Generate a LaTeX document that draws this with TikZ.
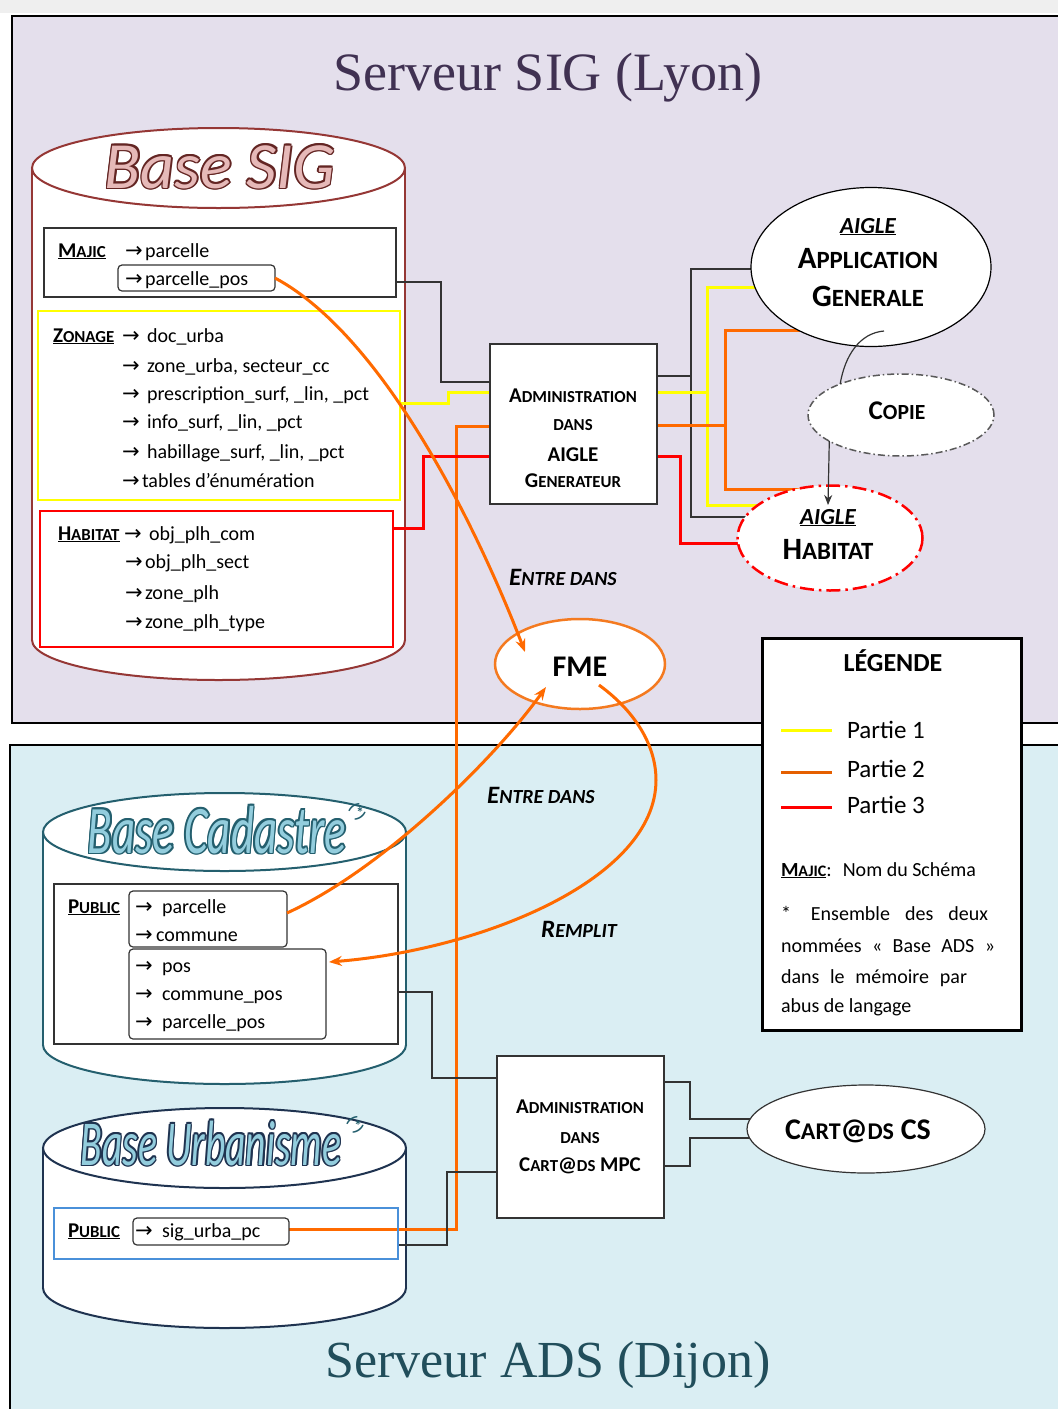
\documentclass[tikz,border=0pt]{standalone}
\usepackage{fontspec}
\setmainfont{Carlito}
\newfontfamily\serifttl{Liberation Serif}
\newfontfamily\arrowfont{DejaVu Sans}
\usetikzlibrary{shapes.geometric,arrows.meta,calc}
\pgfdeclarelayer{bg}
\pgfdeclarelayer{mid}
\pgfsetlayers{bg,mid,main}
\definecolor{lav}{HTML}{E4DFEC}
\definecolor{sky}{HTML}{DAEEF3}
\definecolor{orangeC}{HTML}{FF6A00}
\definecolor{fmeC}{HTML}{F47A20}
\definecolor{sigC}{HTML}{953735}
\definecolor{sigFill}{HTML}{E6B9B8}
\definecolor{sigStroke}{HTML}{632523}
\definecolor{cadC}{HTML}{245F6E}
\definecolor{urbC}{HTML}{1F3350}
\definecolor{cadFill}{HTML}{93CDDD}
\definecolor{titleA}{HTML}{403152}
\definecolor{titleB}{HTML}{214E5B}
\definecolor{blueBox}{HTML}{4A90D9}
\definecolor{redC}{HTML}{FF0000}
\definecolor{yelC}{HTML}{FFFF00}
\definecolor{grayC}{HTML}{595959}
\definecolor{lineK}{HTML}{333333}
\definecolor{topGray}{HTML}{EFEFEF}
\newcommand\fsz[1]{\fontsize{#1}{#1}\selectfont}
\newcommand\smc[2]{#1\scalebox{0.8}{#2}}
\newcommand\myarrow{{\arrowfont\fsz{21}→}}
\newcommand\arbox[1]{\makebox[#1pt][l]{\myarrow}}
% #1 name, #2 coordinate, #3 font, #4 fill, #5 stroke, #6 text
\newcommand\outlinetext[6]{%
  \foreach \dx/\dy in {-1.6/0,1.6/0,0/-1.6,0/1.6,-1.1/-1.1,1.1/1.1,-1.1/1.1,1.1/-1.1}
    {\node[font=#3,text=#5,inner sep=0,anchor=base] at ($#2+(\dx,\dy)$) {#6};}
  \node[font=#3,text=#4,inner sep=0,anchor=base] (#1) at #2 {#6};
}
% xl, xr, ytop, ybot, ry, colour
\newcommand\cylinder[6]{%
  \pgfmathsetmacro\cylcx{(#1+#2)/2}%
  \pgfmathsetmacro\cylrx{(#2-#1)/2}%
  \filldraw[fill=white,draw=#6,line width=2pt] (\cylcx,#4) ellipse[x radius=\cylrx,y radius=#5];
  \fill[white] (#1,#3) rectangle (#2,#4);
  \draw[#6,line width=2pt] (#1,#3) -- (#1,#4) (#2,#3) -- (#2,#4);
  \filldraw[fill=white,draw=#6,line width=2pt] (\cylcx,#3) ellipse[x radius=\cylrx,y radius=#5];
}
\begin{document}
\begin{tikzpicture}[x=1pt,y=-1pt,
  txt/.style={inner sep=0pt,outer sep=0pt,anchor=base west,font=\fsz{20}},
  ctxt/.style={inner sep=0pt,outer sep=0pt,anchor=base},
  box/.style={draw=lineK,line width=1.5pt,inner sep=0pt,outer sep=0pt},
  rbox/.style={draw=lineK,line width=1.2pt,rounded corners=4pt,inner sep=0pt,outer sep=0pt},
  oval/.style={ellipse,inner sep=0pt,outer sep=0pt,fill=white},
  blk/.style={draw=lineK,line width=1.5pt},
  yel/.style={draw=yelC,line width=3pt},
  org/.style={draw=orangeC,line width=3pt},
  redl/.style={draw=redC,line width=3pt},
  tip/.style={-{Stealth[length=13pt,width=10pt]}},
  ktip/.style={-{Stealth[length=10pt,width=8pt]}},
  supstyle/.style={font=\fsz{15}\bfseries,text=cadC,rotate=-55,inner sep=0pt},
]
\useasboundingbox (0,0) rectangle (1058,1409);

\begin{pgfonlayer}{bg}
  \fill[white] (0,0) rectangle (1058,1409);
  \fill[topGray] (0,0) rectangle (1058,13);
  \filldraw[fill=lav,draw=black,line width=2.5pt] (12,16) rectangle (1080,723);
  \filldraw[fill=sky,draw=black,line width=2.5pt] (10,745) rectangle (1080,1430);
  \cylinder{32}{405}{168}{640}{40}{sigC}
  \cylinder{43}{406}{832}{1045}{39}{cadC}
  \cylinder{43}{406}{1148}{1288}{40}{urbC}
\end{pgfonlayer}

% titles
\node[ctxt,font=\serifttl\fsz{54},text=titleA] (title1) at (548,90) {Serveur SIG (Lyon)};
\node[ctxt,font=\serifttl\fsz{52},text=titleB] (title2) at (548,1377) {Serveur ADS (Dijon)};

% database titles
\outlinetext{sigT}{(220,188)}{\fsz{66}\itshape}{sigFill}{sigStroke}{Base SIG}
\outlinetext{cadT}{(217,853)}{\fsz{68}\itshape}{cadFill}{cadC}{\scalebox{0.66}[1]{Base Cadastre}}
\outlinetext{urbT}{(211,1165)}{\fsz{64}\itshape}{cadFill}{urbC}{\scalebox{0.62}[1]{Base Urbanisme}}
\node[supstyle] (cadSup) at (357,812) {(*)};
\node[supstyle] (urbSup) at (355,1125) {(*)};

% ---- Base SIG boxes
\node[box,minimum width=352pt,minimum height=69pt] (majic) at (220,262.5) {};
\node[rbox,minimum width=157pt,minimum height=26pt] (pos) at (196.5,278) {};
\node[draw=yelC,line width=2.5pt,inner sep=0pt,outer sep=0pt,minimum width=362pt,minimum height=189pt] (zonage) at (219,405.5) {};
\node[draw=redC,line width=2.5pt,inner sep=0pt,outer sep=0pt,minimum width=353pt,minimum height=136pt] (habbox) at (216.5,579) {};

\node[txt,font=\fsz{21}] (majicL) at (58,257) {\underline{\textbf{\smc{M}{AJIC}}}};
\node[txt] (m1) at (125,257) {\arbox{20}parcelle};
\node[txt] (m2) at (125,285) {\arbox{20}parcelle\_pos};

\node[txt,font=\fsz{21}] (zonL) at (53,342) {\underline{\textbf{\smc{Z}{ONAGE}}}};
\node[txt] (z1) at (122,342) {\arbox{25}doc\_urba};
\node[txt] (z2) at (122,372) {\arbox{25}zone\_urba, secteur\_cc};
\node[txt] (z3) at (122,400) {\arbox{25}prescription\_surf, \_lin, \_pct};
\node[txt] (z4) at (122,428) {\arbox{25}info\_surf, \_lin, \_pct};
\node[txt] (z5) at (122,458) {\arbox{25}habillage\_surf, \_lin, \_pct};
\node[txt] (z6) at (122,487) {\arbox{20}tables d’énumération};

\node[txt,font=\fsz{21}] (habL) at (58,540) {\underline{\textbf{\smc{H}{ABITAT}}}};
\node[txt] (h1) at (124,540) {\arbox{25}obj\_plh\_com};
\node[txt] (h2) at (125,568) {\arbox{20}obj\_plh\_sect};
\node[txt] (h3) at (125,599) {\arbox{20}zone\_plh};
\node[txt] (h4) at (125,628) {\arbox{20}zone\_plh\_type};

% ---- Base Cadastre boxes
\node[box,minimum width=344pt,minimum height=160pt] (cadbox) at (226,964) {};
\node[rbox,minimum width=158pt,minimum height=56pt] (cadA) at (208,919) {};
\node[rbox,minimum width=197pt,minimum height=90pt] (cadB) at (227.5,994) {};
\node[txt,font=\fsz{21}] (pubL1) at (68,913) {\underline{\textbf{\smc{P}{UBLIC}}}};
\node[txt] (c1) at (135,913) {\arbox{27}parcelle};
\node[txt] (c2) at (135,941) {\arbox{21}commune};
\node[txt] (c3) at (135,972) {\arbox{27}pos};
\node[txt] (c4) at (135,1000) {\arbox{27}commune\_pos};
\node[txt] (c5) at (135,1028) {\arbox{27}parcelle\_pos};

% ---- Base Urbanisme boxes
\node[draw=blueBox,line width=1.5pt,inner sep=0pt,outer sep=0pt,minimum width=344pt,minimum height=51pt] (urbbox) at (226,1233.5) {};
\node[rbox,minimum width=156pt,minimum height=27pt] (sigurba) at (211,1231.5) {};
\node[txt,font=\fsz{21}] (pubL2) at (68,1237) {\underline{\textbf{\smc{P}{UBLIC}}}};
\node[txt] (u1) at (135,1237) {\arbox{27}sig\_urba\_pc};

% ---- admin boxes
\node[box,fill=white,minimum width=167pt,minimum height=160pt] (admin) at (573.5,424) {};
\node[ctxt,font=\fsz{21}\bfseries] (ad1) at (573,402) {\smc{A}{DMINISTRATION}};
\node[ctxt,font=\fsz{21}\bfseries] (ad2) at (573,430) {\scalebox{0.8}{DANS}};
\node[ctxt,font=\fsz{21}\bfseries] (ad3) at (573,461) {AIGLE};
\node[ctxt,font=\fsz{21}\bfseries] (ad4) at (573,487) {\smc{G}{ENERATEUR}};

\node[box,fill=white,minimum width=167pt,minimum height=162pt] (mpc) at (580.5,1137) {};
\node[ctxt,font=\fsz{21}\bfseries] (mp1) at (580,1113) {\smc{A}{DMINISTRATION}};
\node[ctxt,font=\fsz{21}\bfseries] (mp2) at (580,1143) {\scalebox{0.8}{DANS}};
\node[ctxt,font=\fsz{21}\bfseries] (mp3) at (580,1171) {\smc{C}{ART}@\scalebox{0.8}{DS} MPC};

% ---- ellipses
\node[oval,draw=black,line width=1.2pt,minimum width=240pt,minimum height=159pt] (app) at (871,267) {};
\node[ctxt,font=\fsz{23}\bfseries\itshape] (appA) at (868,233) {\underline{AIGLE}};
\node[ctxt,font=\fsz{31}\bfseries] (appB) at (868,268) {\smc{A}{PPLICATION}};
\node[ctxt,font=\fsz{31}\bfseries] (appC) at (868,306) {\smc{G}{ENERALE}};

\node[oval,draw=grayC,line width=1.5pt,dash pattern=on 7pt off 3pt on 1.5pt off 3pt,minimum width=186pt,minimum height=82pt] (copie) at (901,415) {};
\node[ctxt,font=\fsz{27}\bfseries] (copT) at (897,419) {\smc{C}{OPIE}};

\node[oval,draw=redC,line width=2.5pt,dash pattern=on 14pt off 5pt on 2.5pt off 5pt,minimum width=185pt,minimum height=105pt] (habitat) at (830,538) {};
\node[ctxt,font=\fsz{23}\bfseries\itshape] (habA) at (828,524) {\underline{AIGLE}};
\node[ctxt,font=\fsz{31}\bfseries] (habB) at (828,559) {\smc{H}{ABITAT}};

\node[oval,draw=fmeC,line width=2.5pt,minimum width=170pt,minimum height=90pt] (fme) at (580,664) {};
\node[ctxt,font=\fsz{30}\bfseries] (fmeT) at (580,676) {FME};

\node[oval,draw=lineK,line width=1.2pt,minimum width=238pt,minimum height=88pt] (cs) at (866,1129) {};
\node[ctxt,font=\fsz{30}\bfseries] (csT) at (858,1139) {\smc{C}{ART}@\scalebox{0.8}{DS} CS};

% ---- labels
\node[ctxt,font=\fsz{25}\bfseries\itshape] (lab1) at (563,585) {\smc{E}{NTRE DANS}};
\node[ctxt,font=\fsz{25}\bfseries\itshape] (lab2) at (541,803) {\smc{E}{NTRE DANS}};
\node[ctxt,font=\fsz{25}\bfseries\itshape] (lab3) at (579,937) {\smc{R}{EMPLIT}};

% ---- legend
\node[draw=black,line width=3pt,fill=white,inner sep=0pt,outer sep=0pt,minimum width=259pt,minimum height=392pt] (legend) at (891.5,834) {};
\node[ctxt,font=\fsz{26}\bfseries] (legT) at (893,671) {LÉGENDE};
\draw[yelC,line width=3pt] (781,730) -- (832,730);
\draw[orangeC!90!black,line width=3pt] (781,772) -- (832,772);
\draw[redC,line width=3pt] (781,807) -- (832,807);
\node[txt,font=\fsz{25}] (leg1) at (847,738) {Partie 1};
\node[txt,font=\fsz{25}] (leg2) at (847,777) {Partie 2};
\node[txt,font=\fsz{25}] (leg3) at (847,813) {Partie 3};
\node[txt,font=\fsz{20}] (leg4) at (781,876) {\underline{\textbf{\smc{M}{AJIC}}}:\hspace{11pt}Nom du Schéma};
\node[txt,font=\fsz{20}] (leg5) at (781,920) {\makebox[207pt][s]{*\hspace{20pt}Ensemble des deux}};
\node[txt,font=\fsz{20}] (leg6) at (781,952) {\makebox[214pt][s]{nommées «~Base ADS~»}};
\node[txt,font=\fsz{20}] (leg7) at (781,983) {\makebox[186pt][s]{dans le mémoire par}};
\node[txt,font=\fsz{20}] (leg8) at (781,1012) {abus de langage};

% ---- orthogonal connectors (under the nodes)
\begin{pgfonlayer}{mid}
  \draw[blk] (majic.east |- 0,282) -| (441,382) -- (admin.center |- 0,382);
  \draw[blk] (admin.center |- 0,376) -- (691,376) |- (app.center |- 0,269);
  \draw[blk] (691,376) |- (habitat.center |- 0,517);
  \draw[yel] (zonage.east |- 0,403) -| (448,392) -- (admin.center |- 0,392);
  \draw[yel] (admin.center |- 0,392) -- (707,392) |- (app.center |- 0,287);
  \draw[yel] (707,392) |- (habitat.center |- 0,505);
  \draw[org] (admin.center |- 0,425) -- (725,425) |- (app.center |- 0,330);
  \draw[org] (725,425) |- (habitat.center |- 0,489);
  \draw[org] (admin.center |- 0,426) -- (456,426) |- (sigurba.east |- 0,1229);
  \draw[redl] (habbox.east |- 0,528) -| (423,456) -- (admin.center |- 0,456);
  \draw[redl] (admin.center |- 0,456) -- (680,456) |- (habitat.center |- 0,543);
  \draw[blk] (cadbox.east |- 0,992) -| (432,1078) -- (mpc.center |- 0,1078);
  \draw[blk] (urbbox.east |- 0,1245) -| (447,1172) -- (mpc.center |- 0,1172);
  \draw[blk] (mpc.center |- 0,1082) -- (690,1082) |- (cs.center |- 0,1119);
  \draw[blk] (mpc.center |- 0,1166) -- (690,1166) |- (cs.center |- 0,1138);
\end{pgfonlayer}

% ---- curved connectors (on top)
\coordinate (fmeIn1) at (525,652);
\coordinate (fmeIn2) at (546,687);
\coordinate (fmeOut) at (599,685);
\coordinate (appHook) at (884,331);
\coordinate (habIn) at (828,505);
\draw[org,tip] (pos.east) .. controls (385,337) and (479,532) .. (fmeIn1);
\draw[org,tip] (cadA.east |- 0,913) .. controls (385,868) and (496,757) .. (fmeIn2);
\draw[org,tip] (fmeOut) .. controls (640,715) and (656,750) .. (656,780)
   .. controls (656,880) and (480,950) .. ([xshift=3pt]cadB.east |- 0,962);
\draw[lineK,line width=1.2pt] (appHook) .. controls (860,333) and (845,355) .. (copie.153);
\draw[lineK,line width=1.2pt,ktip] (copie.200) -- (habIn);
\end{tikzpicture}
\end{document}
